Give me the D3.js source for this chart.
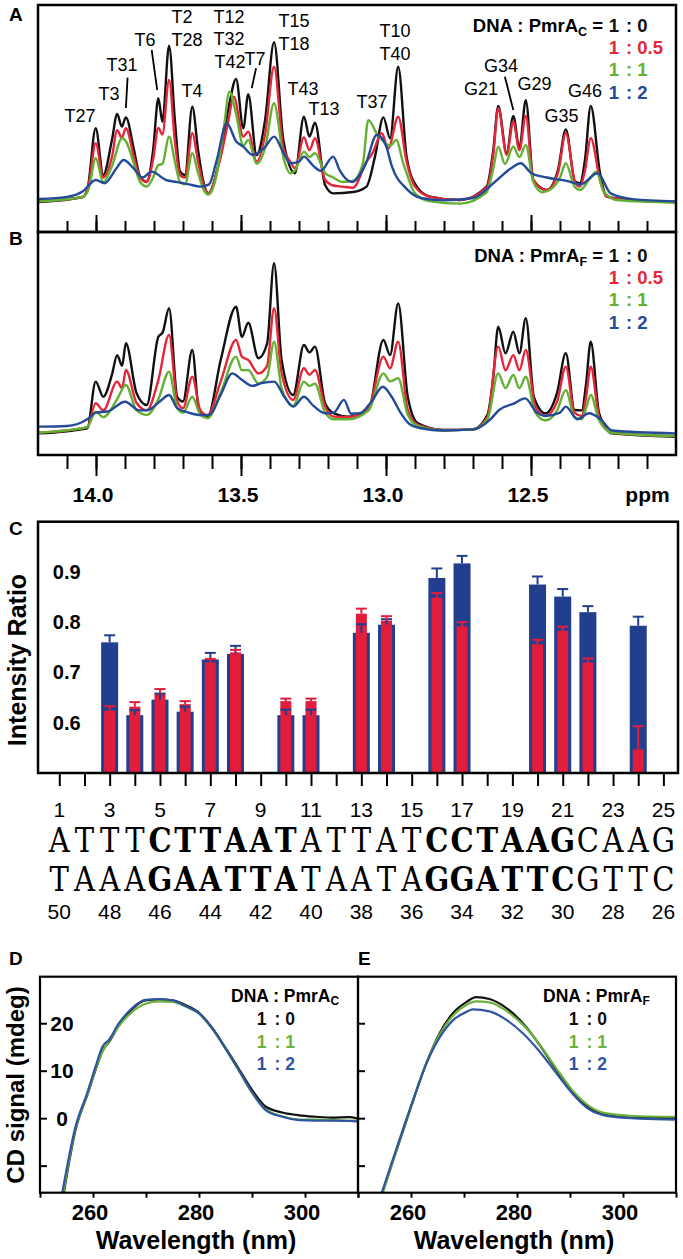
<!DOCTYPE html>
<html><head><meta charset="utf-8">
<script src="https://cdn.jsdelivr.net/npm/d3@7"></script>
<style>body{margin:0;background:#fff}svg{display:block;background:#fff}</style>
</head><body>
<svg id="c" width="683" height="1259"></svg>
<script>
// ---------------- DATA ----------------
// NMR imino spectra, [ppm, intensity (arb. units 0-100)]
const specA_1to0 = [[14.2,13.2],[14.045,15.4],[14.028,19.8],[14.001,45.7],[13.975,25.1],[13.945,40.5],[13.927,52.0],[13.911,46.4],[13.897,50.5],[13.869,36.1],[13.848,24.4],[13.825,22.2],[13.803,36.1],[13.785,58.9],[13.771,48.6],[13.748,82.1],[13.728,49.3],[13.71,26.6],[13.693,25.1],[13.668,55.2],[13.648,36.1],[13.63,22.2],[13.613,17.0],[13.572,33.2],[13.541,55.9],[13.517,67.4],[13.492,45.7],[13.475,60.7],[13.446,33.9],[13.417,49.3],[13.386,83.6],[13.354,40.5],[13.314,25.9],[13.283,50.8],[13.264,42.0],[13.245,48.1],[13.21,20.7],[13.182,17.0],[13.114,17.6],[13.067,20.0],[13.038,33.2],[13.009,50.5],[12.986,41.3],[12.958,72.8],[12.929,33.2],[12.894,20.0],[12.848,15.6],[12.745,14.1],[12.653,20.0],[12.63,36.1],[12.613,55.5],[12.584,34.7],[12.561,51.1],[12.54,36.9],[12.518,58.1],[12.492,22.9],[12.446,18.5],[12.407,27.3],[12.38,45.2],[12.348,22.2],[12.331,21.5],[12.314,31.7],[12.294,55.5],[12.262,25.9],[12.239,15.6],[12.124,13.7],[12.0,13.2]];
const specA_1to05 = [[14.2,13.5],[14.045,15.5],[14.025,21],[14.001,39.1],[13.975,24],[13.945,33],[13.927,44.9],[13.911,41.5],[13.897,45.7],[13.869,33],[13.848,24],[13.825,22],[13.803,32],[13.785,45.8],[13.771,43],[13.748,67.0],[13.728,40],[13.71,25],[13.693,24],[13.668,43.5],[13.648,31],[13.63,21],[13.613,17],[13.572,32],[13.545,48],[13.525,59.6],[13.492,42],[13.475,44.2],[13.446,31],[13.417,43],[13.386,72.8],[13.354,37],[13.33,31],[13.314,28],[13.283,41.7],[13.264,36],[13.245,41.3],[13.21,23],[13.182,20.5],[13.15,20],[13.114,19.5],[13.067,31],[13.044,35.4],[13.03,40],[13.015,43.5],[12.992,36.9],[12.958,50.8],[12.929,31],[12.9,20],[12.848,15.5],[12.745,14.1],[12.653,19.5],[12.63,34],[12.613,54.5],[12.584,34],[12.561,48.6],[12.54,36],[12.518,51.1],[12.492,23],[12.446,18.5],[12.407,26],[12.38,43.5],[12.348,22],[12.331,20],[12.314,27],[12.294,41.3],[12.262,23],[12.239,15.6],[12.124,13.7],[12.0,13.2]];
const specA_1to1 = [[14.2,13.5],[14.045,15.5],[14.025,19],[14.001,32.5],[13.975,22],[13.945,29],[13.91,41.3],[13.897,40],[13.869,30],[13.848,22],[13.825,20],[13.803,24],[13.785,29.5],[13.771,30],[13.748,42],[13.728,31],[13.71,22],[13.693,21],[13.668,34.7],[13.648,26],[13.63,19],[13.613,16.5],[13.59,22],[13.56,45],[13.54,61.8],[13.517,52],[13.492,38],[13.475,40.5],[13.446,30],[13.417,37],[13.386,56.7],[13.354,33],[13.33,25.9],[13.314,27],[13.283,35.4],[13.264,33],[13.245,34.7],[13.21,26],[13.182,24],[13.15,22],[13.114,22.5],[13.08,30],[13.061,49.3],[13.03,43],[13.009,40],[12.985,38],[12.965,40.5],[12.94,30],[12.929,25.9],[12.9,17],[12.848,13.5],[12.745,12.5],[12.653,17.5],[12.63,28],[12.613,37.6],[12.59,30],[12.561,37.6],[12.54,33],[12.518,38.3],[12.492,22],[12.46,17.5],[12.43,19],[12.4,24],[12.38,30.3],[12.35,20],[12.331,18.5],[12.3,23],[12.275,26.6],[12.25,18],[12.2,14],[12.0,13]];
const specA_1to2 = [[14.2,14.5],[14.1,15.5],[14.045,18],[14.001,22.9],[13.97,21.5],[13.93,28],[13.905,31.7],[13.87,28],[13.84,24],[13.808,26.6],[13.76,23],[13.72,22],[13.68,21],[13.64,20],[13.61,21],[13.585,31],[13.549,47.9],[13.517,40],[13.492,37.6],[13.46,34],[13.42,37],[13.386,42.0],[13.354,35],[13.33,30.3],[13.3,31],[13.283,33.2],[13.25,29],[13.225,27],[13.182,33.2],[13.159,27],[13.118,22],[13.07,30],[13.032,42.7],[13.0,38],[12.98,29],[12.929,19],[12.88,15],[12.8,14],[12.7,15],[12.625,22],[12.57,28],[12.535,30.3],[12.5,26],[12.446,24],[12.377,22.5],[12.33,21],[12.27,25.9],[12.225,17],[12.15,14.5],[12.0,13.5]];

const specB_1to0 = [[14.2,9.7],[14.03,12.0],[14.001,32.9],[13.975,26.1],[13.945,36],[13.927,44.8],[13.91,40],[13.897,50.1],[13.86,27.7],[13.825,22.4],[13.785,53.0],[13.77,55],[13.748,65.8],[13.72,26.1],[13.7,24],[13.668,47.1],[13.645,20.2],[13.615,17.2],[13.57,42.6],[13.517,66.5],[13.497,53.0],[13.475,59.3],[13.44,43.4],[13.41,50],[13.386,86.0],[13.36,42.6],[13.32,26.9],[13.283,49.3],[13.264,46],[13.245,48.6],[13.21,23.2],[13.18,18.7],[13.13,17.2],[13.06,20.2],[13.009,51.6],[12.986,44.8],[12.958,68.0],[12.925,26.1],[12.89,14.2],[12.8,11.2],[12.7,11.5],[12.65,18],[12.63,35],[12.613,57.5],[12.588,45.6],[12.561,55.3],[12.54,45.6],[12.518,61.3],[12.49,26.1],[12.45,18.7],[12.41,28],[12.38,45.6],[12.35,20.2],[12.325,20],[12.31,32],[12.294,50.8],[12.265,18.7],[12.22,9.7],[12.0,8.2]];
const specB_1to05 = [[14.2,10],[14.03,12.5],[14.001,23.2],[13.975,20],[13.927,32.9],[13.91,30],[13.897,38.1],[13.86,23.3],[13.825,20],[13.785,33.6],[13.748,53.8],[13.72,24],[13.7,21],[13.668,35.1],[13.64,20],[13.615,17.9],[13.57,33],[13.517,51.6],[13.497,44.1],[13.475,42.6],[13.44,36.6],[13.41,40],[13.386,65.8],[13.36,36.8],[13.32,24.7],[13.283,38.9],[13.264,36],[13.245,38.1],[13.21,21.7],[13.18,17.2],[13.13,17],[13.06,21],[13.009,44.1],[12.986,38.9],[12.958,50.8],[12.925,20.2],[12.89,13.5],[12.8,11.2],[12.7,11.5],[12.65,17],[12.613,48.6],[12.588,38],[12.561,44.8],[12.54,38],[12.518,47.1],[12.485,21.7],[12.45,17.5],[12.41,24],[12.38,39.6],[12.35,19],[12.325,17.5],[12.31,26],[12.294,39.6],[12.265,17.2],[12.22,10],[12.0,8.5]];
const specB_1to1 = [[14.2,10],[14.03,12.5],[14.001,19.4],[13.975,17],[13.927,25],[13.897,31.4],[13.86,20],[13.825,18],[13.785,25],[13.748,37.4],[13.72,21],[13.7,19],[13.668,26.1],[13.64,18],[13.615,16.5],[13.57,28],[13.517,44.1],[13.497,38],[13.475,38.1],[13.44,32],[13.41,35],[13.386,50.8],[13.36,30],[13.32,22],[13.283,32.9],[13.264,31],[13.245,32],[13.21,19],[13.18,16],[13.13,16],[13.06,20],[13.009,36.6],[12.986,33],[12.958,34.4],[12.925,18],[12.89,13],[12.8,11],[12.7,11.5],[12.65,16],[12.613,36.6],[12.588,30],[12.561,35.9],[12.54,30],[12.518,35.1],[12.485,19],[12.45,15.5],[12.41,20],[12.38,29.1],[12.35,17],[12.325,16],[12.31,21],[12.294,26.9],[12.265,15.5],[12.22,10],[12.0,8.5]];
const specB_1to2 = [[14.2,12.7],[14.1,13],[14.03,16],[14.0,19],[13.96,19.5],[13.9,23.9],[13.85,20],[13.82,20.2],[13.78,24],[13.748,26.9],[13.72,21],[13.68,19],[13.64,17.9],[13.61,18],[13.57,27],[13.53,36.6],[13.5,34],[13.46,31],[13.43,32.2],[13.386,32.9],[13.35,26],[13.32,21.7],[13.283,26.1],[13.25,22],[13.21,18.7],[13.18,19],[13.145,24.7],[13.12,18.5],[13.09,18.7],[13.05,24],[13.011,30.6],[12.98,26],[12.95,19],[12.92,14],[12.88,12],[12.8,11],[12.7,11.5],[12.64,16],[12.61,20.2],[12.56,23],[12.52,25.4],[12.48,19],[12.45,17.5],[12.4,19],[12.38,21.7],[12.34,16],[12.3,18.7],[12.26,16],[12.22,11],[12.0,9.7]];

const nmrMajorTicks = [14.0, 13.5, 13.0, 12.5];
const nmrMinorTicks = [14.1,14.0,13.9,13.8,13.7,13.6,13.5,13.4,13.3,13.2,13.1,13.0,12.9,12.8,12.7,12.6,12.5,12.4,12.3,12.2,12.1];
const ratioLabels = ["0", "0.5", "1", "2"];

// peak assignments [label, ppm, intensity]
const peakLabels = [["T27",14.055,48.6],["T3",13.955,58.1],["T31",13.91,70.9],["T6",13.831,82.1],["T2",13.703,91.9],["T28",13.686,82.1],["T4",13.669,59.6],["T12",13.541,92.2],["T32",13.541,82.4],["T42",13.538,72.1],["T7",13.452,73.6],["T15",13.317,90.2],["T18",13.317,80.2],["T43",13.286,60.4],["T13",13.214,51.5],["T10",12.969,86.0],["T40",12.969,75.8],["T37",13.048,54.5],["G21",12.672,60.4],["G34",12.603,70.6],["G29",12.488,62.6],["G35",12.395,48.6],["G46",12.314,59.6]];
const leaderLines = [[[13.891,68.0],[13.897,54.6]],[[13.808,80.2],[13.789,62.6]],[[13.448,72.2],[13.463,63.4]],[[12.590,68.4],[12.561,53.7]]];

// panel C: intensity ratios per base position
const barPositions = [3,4,5,6,7,8,10,11,13,14,16,17,20,21,22,24];
const ratioBlue    = [0.760,0.615,0.646,0.622,0.726,0.737,0.615,0.615,0.779,0.795,0.888,0.917,0.875,0.851,0.820,0.793];
const ratioBlueErr = [0.774,0.625,0.658,0.632,0.739,0.753,0.626,0.626,0.796,0.806,0.907,0.932,0.891,0.866,0.832,0.811];
const ratioRed     = [0.624,0.632,0.658,0.637,0.720,0.740,0.643,0.643,0.817,0.803,0.849,0.792,0.756,0.783,0.720,0.547];
const ratioRedErr  = [0.633,0.641,0.667,0.643,0.727,0.745,0.648,0.648,0.827,0.812,0.858,0.800,0.765,0.791,0.728,0.593];
const ratioTicks = [0.6, 0.7, 0.8, 0.9];
const basePositions = d3.range(1, 26);
const topNumbers = [1,3,5,7,9,11,13,15,17,19,21,23,25];
const bottomNumbers = [50,48,46,44,42,40,38,36,34,32,30,28,26];
const strandTop = "ATTTCTTAATATTATCCTAAGCAAG".split("");
const strandBottom = "TAAAGAATTATAATAGGATTCGTTC".split("");
const boldPositions = [5,6,7,8,9,10,16,17,18,19,20,21];

// panels D/E: CD spectra [wavelength nm, mdeg]
const cdC_1to0 = [[254.5,-15.7],[256.7,-2.5],[258.9,4.8],[260.5,10.2],[261.8,14.2],[263,16.0],[264.9,19.6],[267.4,23.0],[269.9,24.8],[272.5,25.0],[275,24.8],[277.5,23.8],[280,22.2],[282.5,19.0],[285,14.8],[287.5,10.4],[290.1,5.8],[292.6,2.4],[295.7,1.2],[298.9,0.6],[302,0.3],[305.2,0.1],[308.3,0.2],[310,-0.1]];
const cdC_1to1 = [[254.4,-15.7],[256.7,-2.2],[258.9,4.9],[260.5,10.4],[261.8,14.0],[263,16.2],[264.9,19.4],[267.4,22.4],[269.9,24.1],[272.5,24.6],[275,24.5],[277.5,23.5],[280,22.0],[282.5,18.8],[285,14.6],[287.5,10.0],[290.1,5.2],[292.6,1.8],[295.7,0.4],[298.9,-0.3],[302,-0.3],[305.2,-0.4],[308.3,-0.5],[310,-0.5]];
const cdC_1to2 = [[254.2,-15.7],[256.7,-1.8],[258.9,5.3],[260.5,10.9],[261.8,15.1],[263,16.5],[264.9,20.0],[267.4,23.2],[269.9,24.9],[272.5,25.1],[275,24.8],[277.5,23.6],[280,22.1],[282.5,18.9],[285,14.7],[287.5,10.2],[290.1,5.3],[292.6,1.7],[295.7,0.3],[298.9,-0.4],[302,-0.5],[305.2,-0.5],[308.3,-0.6],[310,-0.7]];
const cdF_1to0 = [[254.6,-15.7],[259.8,1.7],[262.9,11.6],[265.4,17.9],[267.9,22.1],[270.5,24.5],[272.3,25.5],[274.8,25.1],[278,23.2],[281.1,20.0],[284.3,15.4],[287.4,10.2],[290.6,5.3],[293.7,2.1],[296.9,0.7],[303.2,0.1],[310,0.0]];
const cdF_1to1 = [[254.7,-15.7],[259.8,1.8],[262.9,11.6],[265.4,17.6],[267.9,21.6],[270.5,23.9],[272.3,24.6],[274.8,24.4],[278,22.6],[281.1,19.7],[284.3,15.5],[287.4,10.5],[290.6,5.7],[293.7,2.5],[296.9,1.0],[303.2,0.4],[310,0.3]];
const cdF_1to2 = [[254.5,-15.7],[259.8,1.9],[262.9,11.5],[265.4,17.0],[267.9,20.6],[270.5,22.4],[271.7,22.9],[274.8,22.5],[278,20.7],[281.1,17.9],[284.3,14.0],[287.4,9.5],[290.6,5.0],[293.7,1.8],[296.9,0.5],[303.2,-0.1],[310,-0.3]];
const cdXTicks = [250,260,270,280,290,300,310];
const cdXLabels = [260,280,300];
const cdYTicks = [-10,0,10,20];
const cdYLabels = [0,10,20];
const cdRatioLabels = ["0","1","2"];

// ---------------- STYLE ----------------
const F = "'Liberation Sans', Arial, Helvetica, sans-serif";
const COL = {black:"#111111", red:"#e5263a", green:"#63b132", blue:"#244a98"};
const BAR = {blue:"#213f8e", red:"#e21d3b"};
const CD = {black:"#111111", green:"#6cb23c", blue:"#30559f"};

const svg = d3.select("#c");
svg.append("rect").attr("width",683).attr("height",1259).attr("fill","#fff");

function txt(x,y,s,o={}){
  return svg.append("text").attr("x",x).attr("y",y).attr("font-family",o.family||F)
    .attr("font-size",o.size||18).attr("font-weight",o.weight||"normal")
    .attr("text-anchor",o.anchor||"start").attr("fill",o.fill||"#000").text(s);
}
function frame(x0,y0,x1,y1,sw){
  svg.append("rect").attr("x",x0).attr("y",y0).attr("width",x1-x0).attr("height",y1-y0)
    .attr("fill","none").attr("stroke","#000").attr("stroke-width",sw);
}
function cleanAxis(g,sw){ g.select(".domain").remove(); g.selectAll(".tick line").attr("stroke","#000").attr("stroke-width",sw); g.selectAll(".tick text").remove(); }

// ---------------- PANELS A & B ----------------
const nmrX = d3.scaleLinear().domain([14.2,12.0]).range([38,676]);
const yA = d3.scaleLinear().domain([0,100]).range([232,5]);
const yB = d3.scaleLinear().domain([0,100]).range([455,232]);

function spectra(list, yS, id, y0, y1){
  svg.append("clipPath").attr("id",id).append("rect").attr("x",39).attr("y",y0).attr("width",636).attr("height",y1-y0);
  const g = svg.append("g").attr("clip-path",`url(#${id})`);
  const line = d3.line().x(d=>nmrX(d[0])).y(d=>yS(d[1])).curve(d3.curveMonotoneX);
  list.forEach(([data,c])=> g.append("path").datum(data).attr("d",line).attr("fill","none")
    .attr("stroke",c).attr("stroke-width",2.4).attr("stroke-linejoin","round"));
}
spectra([[specA_1to0,COL.black],[specA_1to05,COL.red],[specA_1to1,COL.green],[specA_1to2,COL.blue]], yA, "clipA", 6, 231);
spectra([[specB_1to0,COL.black],[specB_1to05,COL.red],[specB_1to1,COL.green],[specB_1to2,COL.blue]], yB, "clipB", 233, 454);

// ticks A (upward from shared border)
cleanAxis(svg.append("g").attr("transform","translate(0,232)").call(d3.axisBottom(nmrX).tickValues(nmrMinorTicks).tickSize(-11)),2);
cleanAxis(svg.append("g").attr("transform","translate(0,232)").call(d3.axisBottom(nmrX).tickValues(nmrMajorTicks).tickSize(-17)),2);
// ticks B (downward)
cleanAxis(svg.append("g").attr("transform","translate(0,455)").call(d3.axisBottom(nmrX).tickValues(nmrMinorTicks).tickSize(14)),2);
cleanAxis(svg.append("g").attr("transform","translate(0,455)").call(d3.axisBottom(nmrX).tickValues(nmrMajorTicks).tickSize(21)),2);
nmrMajorTicks.forEach(v=> txt(nmrX(v)-3, 501.5, v.toFixed(1), {size:21, weight:"bold", anchor:"middle"}));
txt(647.5, 501.5, "ppm", {size:21, weight:"bold", anchor:"middle"});

frame(38,5,676,232,2.5);
frame(38,232,676,455,2.5);

// peak labels
peakLabels.forEach(([t,p,i])=> txt(nmrX(p), yA(i), t, {size:18, anchor:"middle"}));
leaderLines.forEach(([a,b])=> svg.append("line").attr("x1",nmrX(a[0])).attr("y1",yA(a[1]))
  .attr("x2",nmrX(b[0])).attr("y2",yA(b[1])).attr("stroke","#000").attr("stroke-width",1.8));

function nmrLegend(y0, sub){
  const t = svg.append("text").attr("x",603).attr("y",y0).attr("text-anchor","end")
    .attr("font-family",F).attr("font-size",18.5).attr("font-weight","bold");
  t.append("tspan").text("DNA : PmrA");
  t.append("tspan").attr("font-size",12.5).attr("dy",4).text(sub);
  t.append("tspan").attr("dy",-4).text(" =");
  const cols = [COL.black, COL.red, COL.green, COL.blue];
  ratioLabels.forEach((r,i)=>{
    txt(614, y0+i*22.3, "1", {size:18.5, weight:"bold", anchor:"middle", fill:cols[i]});
    txt(626, y0+i*22.3, ": "+r, {size:18.5, weight:"bold", fill:cols[i]});
  });
}
nmrLegend(31.7, "C");
nmrLegend(261.7, "F");

txt(9, 20.5, "A", {size:19, weight:"bold"});
txt(9, 245, "B", {size:19, weight:"bold"});

// ---------------- PANEL C ----------------
const posX = d3.scaleLinear().domain([1,25]).range([59.3,663.4]);
const yC = d3.scaleLinear().domain([0.5,1.0]).range([773,521.7]);
const gC = svg.append("g");
gC.selectAll("rect.b").data(barPositions).join("rect").attr("class","b")
  .attr("x",d=>posX(d)-8.5).attr("width",17).attr("y",(d,i)=>yC(ratioBlue[i]))
  .attr("height",(d,i)=>yC(0.5)-yC(ratioBlue[i])).attr("fill",BAR.blue);
gC.selectAll("rect.r").data(barPositions).join("rect").attr("class","r")
  .attr("x",d=>posX(d)-5.5).attr("width",11).attr("y",(d,i)=>yC(ratioRed[i]))
  .attr("height",(d,i)=>yC(0.5)-yC(ratioRed[i])).attr("fill",BAR.red);
function errBars(vals, errs, c){
  barPositions.forEach((p,i)=>{
    const x = posX(p);
    gC.append("line").attr("x1",x).attr("x2",x).attr("y1",yC(vals[i])).attr("y2",yC(errs[i])).attr("stroke",c).attr("stroke-width",2);
    gC.append("line").attr("x1",x-5.5).attr("x2",x+5.5).attr("y1",yC(errs[i])).attr("y2",yC(errs[i])).attr("stroke",c).attr("stroke-width",2);
  });
}
errBars(ratioBlue, ratioBlueErr, BAR.blue);
errBars(ratioRed, ratioRedErr, BAR.red);
frame(38,521.7,678,773,2.5);
ratioTicks.forEach(v=> txt(66.7, yC(v)+7, v.toFixed(1), {size:20, weight:"bold", anchor:"middle"}));
svg.append("text").attr("transform","translate(26,660) rotate(-90)").attr("text-anchor","middle")
  .attr("font-family",F).attr("font-size",25).attr("font-weight","bold").text("Intensity Ratio");
cleanAxis(svg.append("g").attr("transform","translate(0,773)").call(d3.axisBottom(posX).tickValues(basePositions).tickSize(13)),2);
topNumbers.forEach(n=> txt(posX(n), 817, String(n), {size:21, anchor:"middle"}));
bottomNumbers.forEach((n,i)=> txt(posX(topNumbers[i]), 919, String(n), {size:21, anchor:"middle"}));
function strand(chars, base){
  chars.forEach((ch,i)=>{
    const p = i+1, b = boldPositions.includes(p);
    svg.append("text").attr("transform",`translate(${posX(p)},${base}) scale(0.88,1)`)
      .attr("text-anchor","middle").attr("font-family","'DejaVu Serif', serif")
      .attr("font-size",33).attr("font-weight",b?"bold":"normal").text(ch);
  });
}
strand(strandTop, 852);
strand(strandBottom, 891);
txt(9, 535, "C", {size:19, weight:"bold"});

// ---------------- PANELS D & E ----------------
const xD = d3.scaleLinear().domain([250,310]).range([40,358]);
const xE = d3.scaleLinear().domain([250,310]).range([358,676]);
const yCD = d3.scaleLinear().domain([-15.7,29.8]).range([1192.7,976.7]);
function cdPanel(xS, list, id, x0, x1){
  svg.append("clipPath").attr("id",id).append("rect").attr("x",x0).attr("y",977).attr("width",x1-x0).attr("height",215);
  const g = svg.append("g").attr("clip-path",`url(#${id})`);
  const line = d3.line().x(d=>xS(d[0])).y(d=>yCD(d[1])).curve(d3.curveMonotoneX);
  list.forEach(([data,c])=> g.append("path").datum(data).attr("d",line).attr("fill","none").attr("stroke",c).attr("stroke-width",2.2));
  cleanAxis(svg.append("g").attr("transform","translate(0,1192.7)").call(d3.axisBottom(xS).tickValues(cdXTicks).tickSize(5)),2);
  cleanAxis(svg.append("g").attr("transform",`translate(${x0},0)`).call(d3.axisRight(yCD).tickValues(cdYTicks).tickSize(7)),2);
  cdXLabels.forEach(v=> txt(xS(v)-3, 1219.5, String(v), {size:22, weight:"bold", anchor:"middle"}));
  txt((x0+x1)/2-3, 1249, "Wavelength (nm)", {size:25, weight:"bold", anchor:"middle"});
}
cdPanel(xD, [[cdC_1to0,CD.black],[cdC_1to1,CD.green],[cdC_1to2,CD.blue]], "clipD", 40, 358);
cdPanel(xE, [[cdF_1to0,CD.black],[cdF_1to1,CD.green],[cdF_1to2,CD.blue]], "clipE", 358, 676);
frame(40,976.7,358,1192.7,2.2);
frame(358,976.7,676,1192.7,2.2);
cdYLabels.forEach(v=> txt(62, yCD(v)+7.5, String(v), {size:21, weight:"bold", anchor:"middle"}));
svg.append("text").attr("transform","translate(24,1085) rotate(-90)").attr("text-anchor","middle")
  .attr("font-family",F).attr("font-size",24).attr("font-weight","bold").text("CD signal (mdeg)");
function cdLegend(xl, x1, sub){
  const t = svg.append("text").attr("x",xl).attr("y",1001.7).attr("font-family",F).attr("font-size",17.5).attr("font-weight","bold");
  t.append("tspan").text("DNA : PmrA");
  t.append("tspan").attr("font-size",12).attr("dy",3).text(sub);
  const cols = [CD.black, CD.green, CD.blue];
  cdRatioLabels.forEach((r,i)=>{
    txt(x1, 1025+i*22.5, "1", {size:17.5, weight:"bold", anchor:"middle", fill:cols[i]});
    txt(x1+13, 1025+i*22.5, ": "+r, {size:17.5, weight:"bold", fill:cols[i]});
  });
}
cdLegend(231, 261.5, "C");
cdLegend(543, 573.5, "F");
txt(9, 965, "D", {size:19, weight:"bold"});
txt(358, 965, "E", {size:19, weight:"bold"});
</script>
</body></html>
